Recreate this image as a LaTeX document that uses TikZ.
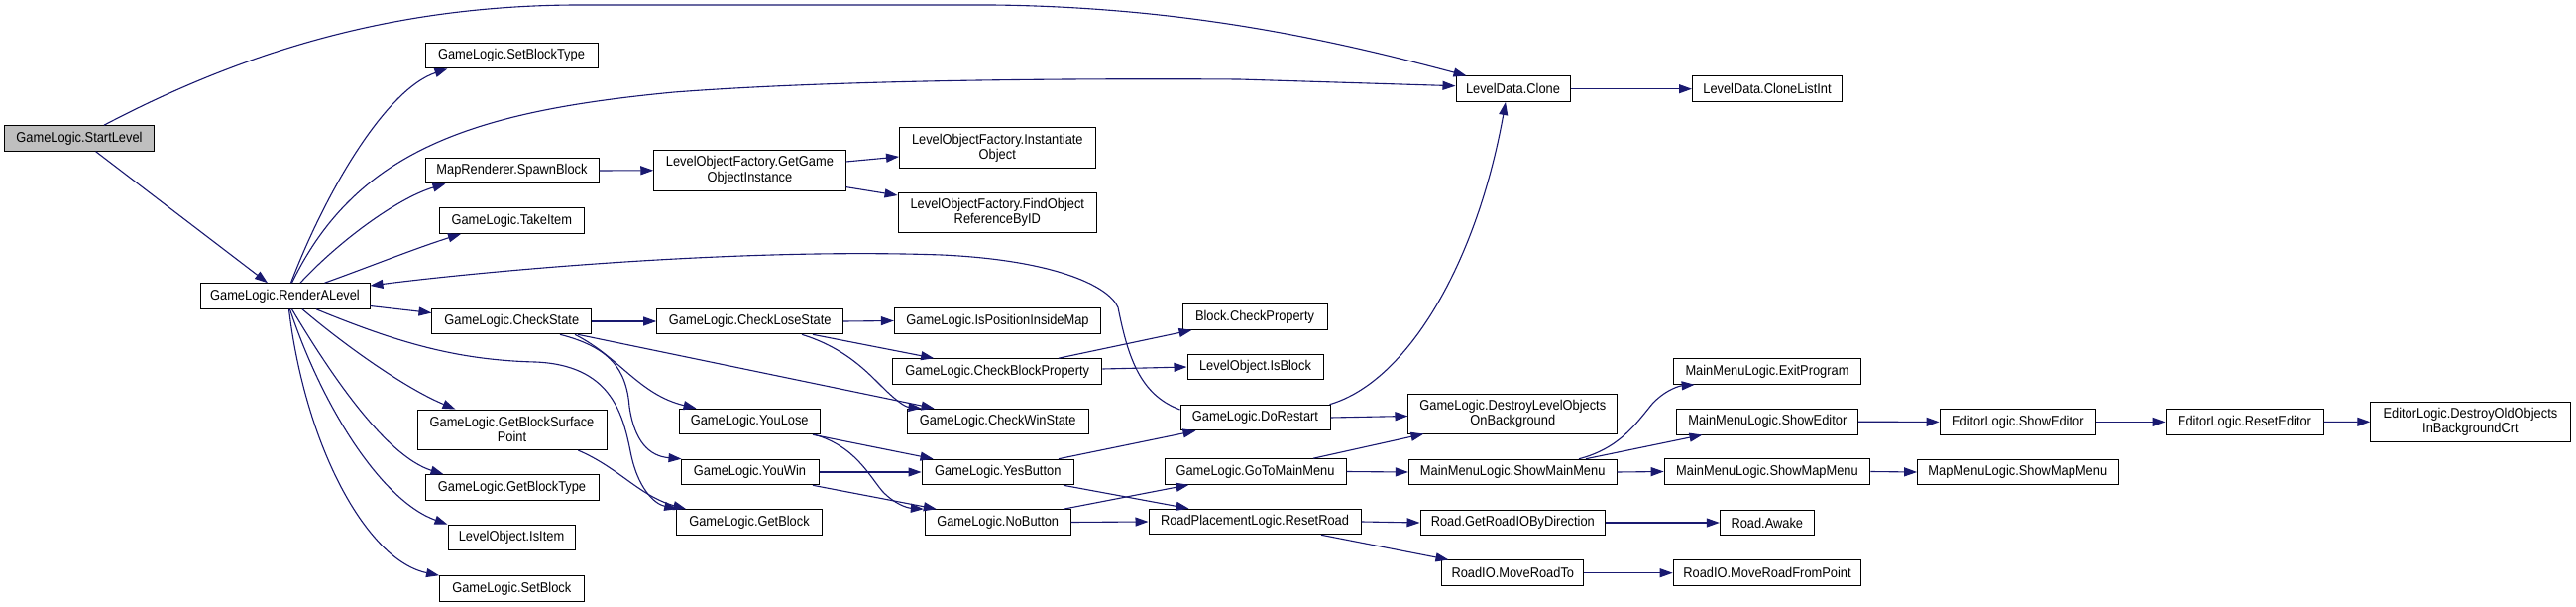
\documentclass[tikz,border=0pt]{standalone}
\usepackage{fontspec}
\setmainfont[FakeStretch=0.905]{Liberation Sans}
\usetikzlibrary{arrows.meta,calc}
\definecolor{edgecol}{RGB}{25,25,112}
\definecolor{startgray}{RGB}{191,191,191}
\tikzset{
  box/.style={draw=black, fill=white, line width=1pt, inner sep=0pt, minimum height=25.6pt, align=center, font=\fontsize{14.2pt}{15.2pt}\selectfont},
  box2/.style={box, minimum height=40.5pt},
  e/.style={draw=edgecol, line width=1.1pt, -{Triangle[length=13pt,width=9pt]}}
}
\begin{document}
\begin{tikzpicture}[x=1pt,y=-1pt]
\useasboundingbox (0,0) rectangle (2599,612);
% nodes
\node[box, fill=startgray, minimum width=150.5pt] (startlevel) at (80,139.5) {GameLogic.StartLevel};
\node[box, minimum width=171pt] (renderalevel) at (287.5,298.5) {GameLogic.RenderALevel};
\node[box, minimum width=174pt] (setblocktype) at (516,56) {GameLogic.SetBlockType};
\node[box, minimum width=175pt] (spawnblock) at (516.5,172) {MapRenderer.SpawnBlock};
\node[box, minimum width=145.5pt] (takeitem) at (516.3,222.6) {GameLogic.TakeItem};
\node[box, minimum width=160.7pt] (checkstate) at (516.3,324) {GameLogic.CheckState};
\node[box2, minimum width=191pt] (gbsp) at (516.5,433.3) {GameLogic.GetBlockSurface\\Point};
\node[box, minimum width=175pt] (getblocktype) at (516.5,491.5) {GameLogic.GetBlockType};
\node[box, minimum width=128pt] (isitem) at (516,542) {LevelObject.IsItem};
\node[box, minimum width=145.5pt] (setblock) at (516.3,593.5) {GameLogic.SetBlock};
\node[box2, minimum width=193.3pt] (ggoi) at (756.4,171.8) {LevelObjectFactory.GetGame\\ObjectInstance};
\node[box, minimum width=188pt] (checklosestate) at (756.7,324) {GameLogic.CheckLoseState};
\node[box, minimum width=142.3pt] (youlose) at (756.2,425) {GameLogic.YouLose};
\node[box, minimum width=139pt] (youwin) at (756.5,476) {GameLogic.YouWin};
\node[box, minimum width=146.6pt] (getblock) at (756,526.5) {GameLogic.GetBlock};
\node[box2, minimum width=197.5pt] (instantiate) at (1006.3,149.2) {LevelObjectFactory.Instantiate\\Object};
\node[box2, minimum width=200.5pt] (findobject) at (1006.3,214.7) {LevelObjectFactory.FindObject\\ReferenceByID};
\node[box, minimum width=208.4pt] (ispos) at (1006.5,323.5) {GameLogic.IsPositionInsideMap};
\node[box, minimum width=211.3pt] (checkblockprop) at (1006.3,374.5) {GameLogic.CheckBlockProperty};
\node[box, minimum width=183.3pt] (checkwin) at (1006.7,425) {GameLogic.CheckWinState};
\node[box, minimum width=153.3pt] (yesbutton) at (1006.7,476) {GameLogic.YesButton};
\node[box, minimum width=146.7pt] (nobutton) at (1006.7,526.5) {GameLogic.NoButton};
\node[box, minimum width=146pt] (blockcheckprop) at (1266,319.5) {Block.CheckProperty};
\node[box, minimum width=137pt] (isblock) at (1266.5,370) {LevelObject.IsBlock};
\node[box, minimum width=151pt] (dorestart) at (1266.5,421) {GameLogic.DoRestart};
\node[box, minimum width=183pt] (gotomainmenu) at (1266.5,475.5) {GameLogic.GoToMainMenu};
\node[box, minimum width=214pt] (resetroad) at (1266,526) {RoadPlacementLogic.ResetRoad};
\node[box, minimum width=115pt] (clone) at (1526.5,89.7) {LevelData.Clone};
\node[box2, minimum width=210.7pt, minimum height=40pt] (destroylevel) at (1526.3,417) {GameLogic.DestroyLevelObjects\\OnBackground};
\node[box, minimum width=209.6pt] (showmainmenu) at (1526.2,476) {MainMenuLogic.ShowMainMenu};
\node[box, minimum width=186.6pt] (getroadio) at (1526.3,527) {Road.GetRoadIOByDirection};
\node[box, minimum width=142.7pt] (moveroadto) at (1526.3,577.7) {RoadIO.MoveRoadTo};
\node[box, minimum width=151pt] (clonelistint) at (1783,89.7) {LevelData.CloneListInt};
\node[box, minimum width=189.7pt] (exitprogram) at (1783,374.5) {MainMenuLogic.ExitProgram};
\node[box, minimum width=182.7pt] (mmshoweditor) at (1783.3,425.2) {MainMenuLogic.ShowEditor};
\node[box, minimum width=207.7pt] (showmapmenu) at (1783,475.5) {MainMenuLogic.ShowMapMenu};
\node[box, minimum width=95pt] (awake) at (1782.8,527) {Road.Awake};
\node[box, minimum width=189.7pt] (moveroadfrompoint) at (1783,577.7) {RoadIO.MoveRoadFromPoint};
\node[box, minimum width=157.6pt] (elshoweditor) at (2035.8,425.4) {EditorLogic.ShowEditor};
\node[box, minimum width=202.4pt] (mapmenushow) at (2035.8,476) {MapMenuLogic.ShowMapMenu};
\node[box, minimum width=159pt] (reseteditor) at (2264.5,425.4) {EditorLogic.ResetEditor};
\node[box2, minimum width=201.3pt, minimum height=40pt] (destroyold) at (2492.4,425.3) {EditorLogic.DestroyOldObjects\\InBackgroundCrt};
% edges
\draw[e] ([xshift=25pt]startlevel.north) .. controls (250,50) and (400,6) .. (580,5) -- (1000,5) .. controls (1200,7) and (1350,42) .. ([xshift=11pt]clone.north west);
\draw[e] ([xshift=16.7pt]startlevel.south) -- ([xshift=-17.5pt]renderalevel.north);
\draw[e] ([xshift=6pt]renderalevel.north) .. controls (330,190) and (390,90) .. ([xshift=23pt]setblocktype.south west);
\draw[e] ([xshift=7pt]renderalevel.north) .. controls (360,150) and (480,112) .. (680,93) .. controls (850,80) and (1100,79) .. (1250,80) -- ([yshift=3pt]clone.west);
\draw[e] ([xshift=15.5pt]renderalevel.north) .. controls (340,245) and (400,200) .. ([xshift=21pt]spawnblock.south west);
\draw[e] ([xshift=40pt]renderalevel.north) .. controls (370,270) and (420,250) .. ([xshift=22pt]takeitem.south west);
\draw[e] ([yshift=8pt]dorestart.west) .. controls (1150,398) and (1138,360) .. (1128,310) .. controls (1118,287) and (1060,262) .. (950,257) .. controls (750,250) and (500,272) .. ([yshift=10.5pt]renderalevel.east);
\draw[e] ([yshift=-10pt]renderalevel.east) -- ([yshift=8.5pt]checkstate.west);
\draw[e] ([xshift=17.5pt]renderalevel.south) .. controls (350,350) and (410,392) .. ([xshift=39pt]gbsp.north west);
\draw[e] ([xshift=7pt]renderalevel.south) .. controls (335,380) and (390,460) .. ([xshift=19pt]getblocktype.north west);
\draw[e] ([xshift=5pt]renderalevel.south) .. controls (325,410) and (385,505) .. (isitem.north west);
\draw[e] ([xshift=4pt]renderalevel.south) .. controls (308,450) and (370,565) .. (setblock.north west);
\draw[e] ([xshift=31.5pt]renderalevel.south) .. controls (400,345) and (460,363) .. (540,365) .. controls (615,368) and (628,415) .. (636,455) .. controls (643,492) and (660,508) .. ([xshift=1pt]getblock.north west);
\draw[e] ([xshift=66.8pt]gbsp.south) .. controls (625,472) and (645,500) .. ([xshift=10pt]getblock.north west);
\draw[e] (checkstate.east) -- (checklosestate.west);
\draw[e] ([xshift=66.7pt]checkstate.south) -- ([xshift=28pt]checkwin.north west);
\draw[e] ([xshift=63.7pt]checkstate.south) .. controls (625,360) and (645,398) .. ([xshift=18pt]youlose.north west);
\draw[e] ([xshift=48.7pt]checkstate.south) .. controls (615,350) and (632,372) .. (635,410) .. controls (640,445) and (655,460) .. ([xshift=1pt]youwin.north west);
\draw[e] (spawnblock.east) -- (ggoi.west);
\draw[e] ([yshift=8.8pt]ggoi.east) -- ([yshift=-8.8pt]instantiate.west);
\draw[e] ([yshift=-16.8pt]ggoi.east) -- ([yshift=17.7pt]findobject.west);
\draw[e] (checklosestate.east) -- (ispos.west);
\draw[e] ([xshift=63.3pt]checklosestate.south) -- ([xshift=42pt]checkblockprop.north west);
\draw[e] ([xshift=52.3pt]checklosestate.south) .. controls (850,350) and (872,372) .. (888,388) .. controls (902,402) and (912,410) .. ([xshift=15pt]checkwin.north west);
\draw[e] ([xshift=61.7pt]checkblockprop.north) -- ([xshift=10pt]blockcheckprop.south west);
\draw[e] ([yshift=2.5pt]checkblockprop.east) -- (isblock.west);
\draw[e] ([xshift=63.8pt]youlose.south) -- ([xshift=12pt]yesbutton.north west);
\draw[e] ([xshift=66pt]youlose.south) .. controls (862,450) and (876,478) .. (890,495) .. controls (902,508) and (915,512) .. ([xshift=-1pt]nobutton.north west);
\draw[e] (youwin.east) -- (yesbutton.west);
\draw[e] ([xshift=63.5pt]youwin.south) -- ([xshift=12pt]nobutton.north west);
\draw[e] ([xshift=61.3pt]yesbutton.north) -- ([xshift=16pt]dorestart.south west);
\draw[e] ([xshift=66.3pt]yesbutton.south) -- ([xshift=41pt]resetroad.north west);
\draw[e] ([xshift=66.3pt]nobutton.north) -- ([xshift=25pt]gotomainmenu.south west);
\draw[e] (nobutton.east) -- (resetroad.west);
\draw[e] ([xshift=-1pt]dorestart.north east) .. controls (1420,385) and (1490,265) .. ([xshift=-7.5pt]clone.south);
\draw[e] (dorestart.east) -- ([yshift=-2.5pt]destroylevel.west);
\draw[e] ([xshift=58.5pt]gotomainmenu.north) -- ([xshift=16pt]destroylevel.south west);
\draw[e] (gotomainmenu.east) -- (showmainmenu.west);
\draw[e] (resetroad.east) -- (getroadio.west);
\draw[e] ([xshift=67pt]resetroad.south) -- ([xshift=7pt]moveroadto.north west);
\draw[e] (clone.east) -- (clonelistint.west);
\draw[e] ([xshift=66.8pt]showmainmenu.north) .. controls (1635,452) and (1652,425) .. (1668,406) .. controls (1682,392) and (1695,389) .. ([xshift=22pt]exitprogram.south west);
\draw[e] ([xshift=73.8pt]showmainmenu.north) -- ([xshift=26pt]mmshoweditor.south west);
\draw[e] (showmainmenu.east) -- (showmapmenu.west);
\draw[e] (getroadio.east) -- (awake.west);
\draw[e] (moveroadto.east) -- (moveroadfrompoint.west);
\draw[e] (mmshoweditor.east) -- (elshoweditor.west);
\draw[e] (elshoweditor.east) -- (reseteditor.west);
\draw[e] (reseteditor.east) -- (destroyold.west);
\draw[e] (showmapmenu.east) -- (mapmenushow.west);
\end{tikzpicture}
\end{document}
